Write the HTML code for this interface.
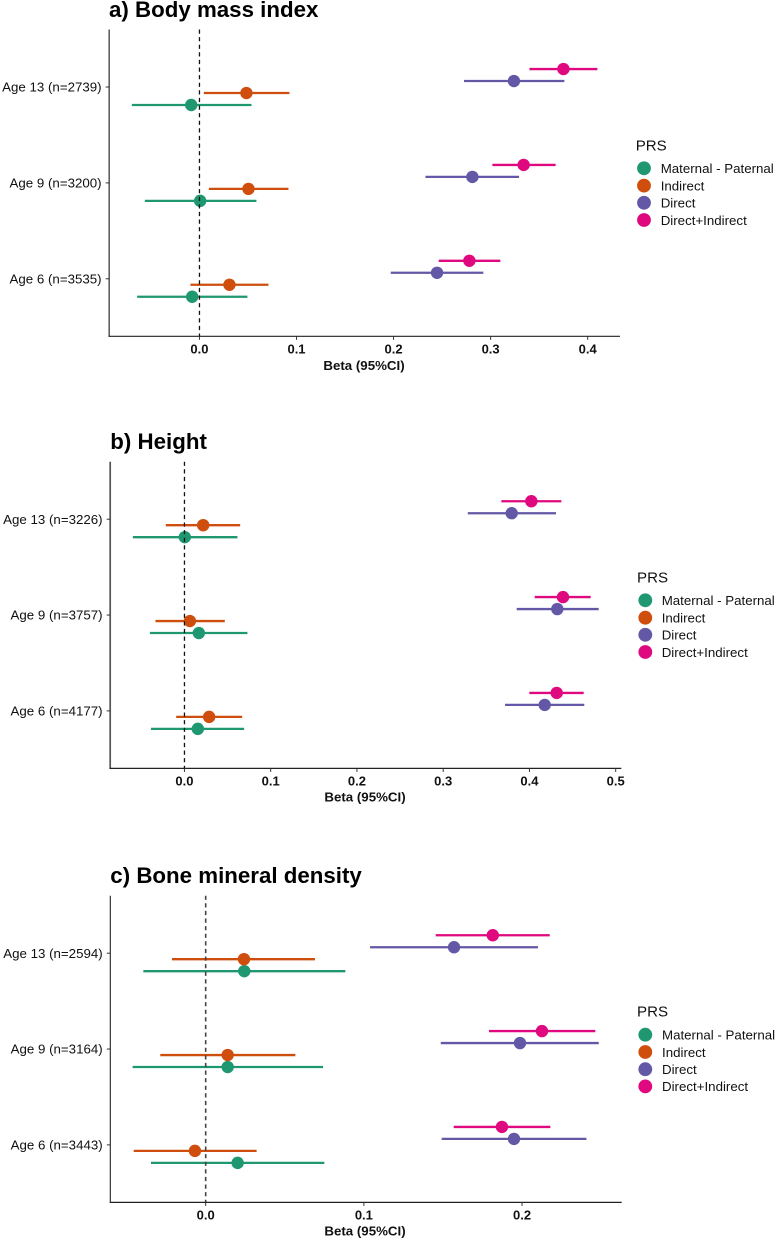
<!DOCTYPE html>
<html lang="en">
<head>
<meta charset="utf-8">
<title>PRS forest plots</title>
<style>
html,body{margin:0;padding:0;background:#fff;width:776px;height:1240px;overflow:hidden}
svg{display:block;font-family:"Liberation Sans",Arial,sans-serif}
.title{font-size:22.3px;font-weight:700;fill:#000}
.axt{font-size:13.3px;font-weight:700;fill:#111;text-anchor:middle}
.lt{font-size:15.1px;fill:#111}
.li{font-size:13.3px;fill:#111}
.tx{font-size:13px;font-weight:700;fill:#111;text-anchor:middle}
.ty{font-size:13.3px;fill:#111;text-anchor:end}
</style>
</head>
<body>
<svg id="chart" xmlns="http://www.w3.org/2000/svg" width="776" height="1240" viewBox="0 0 776 1240">
  <rect width="776" height="1240" fill="#fff"/>

  <g id="panel-a">
    <text class="title" x="109" y="17">a) Body mass index</text>
    <text class="axt" x="364" y="370">Beta (95%CI)</text>
    <g>
      <text class="lt" x="635.7" y="150.7">PRS</text>
      <g><circle cx="644" cy="168.3" r="6.9" fill="#1f9770"/><text class="li" x="660.7" y="173.1">Maternal - Paternal</text></g>
      <g><circle cx="644" cy="185.6" r="6.9" fill="#cf4e0d"/><text class="li" x="660.7" y="190.4">Indirect</text></g>
      <g><circle cx="644" cy="202.8" r="6.9" fill="#6258a6"/><text class="li" x="660.7" y="207.6">Direct</text></g>
      <g><circle cx="644" cy="220" r="6.9" fill="#df087e"/><text class="li" x="660.7" y="224.8">Direct+Indirect</text></g>
    </g>
  </g>

  <g id="panel-b">
    <text class="title" x="110.3" y="449">b) Height</text>
    <text class="axt" x="365" y="801.7">Beta (95%CI)</text>
    <g>
      <text class="lt" x="637" y="582.7">PRS</text>
      <g><circle cx="645.3" cy="600.3" r="6.9" fill="#1f9770"/><text class="li" x="661.7" y="605.1">Maternal - Paternal</text></g>
      <g><circle cx="645.3" cy="617.7" r="6.9" fill="#cf4e0d"/><text class="li" x="661.7" y="622.5">Indirect</text></g>
      <g><circle cx="645.3" cy="634.8" r="6.9" fill="#6258a6"/><text class="li" x="661.7" y="639.6">Direct</text></g>
      <g><circle cx="645.3" cy="652" r="6.9" fill="#df087e"/><text class="li" x="661.7" y="656.8">Direct+Indirect</text></g>
    </g>
  </g>

  <g id="panel-c">
    <text class="title" x="110.3" y="883">c) Bone mineral density</text>
    <text class="axt" x="365" y="1235.3">Beta (95%CI)</text>
    <g>
      <text class="lt" x="637" y="1016.7">PRS</text>
      <g><circle cx="645.3" cy="1034.7" r="6.9" fill="#1f9770"/><text class="li" x="662" y="1039.5">Maternal - Paternal</text></g>
      <g><circle cx="645.3" cy="1052" r="6.9" fill="#cf4e0d"/><text class="li" x="662" y="1056.8">Indirect</text></g>
      <g><circle cx="645.3" cy="1069.2" r="6.9" fill="#6258a6"/><text class="li" x="662" y="1074">Direct</text></g>
      <g><circle cx="645.3" cy="1086.4" r="6.9" fill="#df087e"/><text class="li" x="662" y="1091.2">Direct+Indirect</text></g>
    </g>
  </g>
</svg>
<script>
// Values are listed top to bottom: Age 13, Age 9, Age 6.
const bmiCategories = ["Age 13 (n=2739)", "Age 9 (n=3200)", "Age 6 (n=3535)"];
const bmiTicks = [0.0, 0.1, 0.2, 0.3, 0.4];
const bmiTickLabels = ["0.0", "0.1", "0.2", "0.3", "0.4"];
const bmiDomain = [-0.0930, 0.4333];
const bmiMaternalBeta = [-0.0085, 0.0007, -0.0075];
const bmiMaternalLow = [-0.0697, -0.0563, -0.0642];
const bmiMaternalHigh = [0.0536, 0.0587, 0.0494];
const bmiIndirectBeta = [0.0484, 0.0505, 0.0309];
const bmiIndirectLow = [0.0045, 0.0097, -0.0093];
const bmiIndirectHigh = [0.0927, 0.0917, 0.0711];
const bmiDirectBeta = [0.324, 0.2812, 0.2448];
const bmiDirectLow = [0.2726, 0.2328, 0.1971];
const bmiDirectHigh = [0.376, 0.3293, 0.2925];
const bmiCombinedBeta = [0.375, 0.334, 0.2781];
const bmiCombinedLow = [0.340, 0.3018, 0.2465];
const bmiCombinedHigh = [0.410, 0.367, 0.310];

const heightCategories = ["Age 13 (n=3226)", "Age 9 (n=3757)", "Age 6 (n=4177)"];
const heightTicks = [0.0, 0.1, 0.2, 0.3, 0.4, 0.5];
const heightTickLabels = ["0.0", "0.1", "0.2", "0.3", "0.4", "0.5"];
const heightDomain = [-0.0861, 0.5065];
const heightMaternalBeta = [0.0004, 0.0167, 0.0155];
const heightMaternalLow = [-0.0598, -0.0401, -0.0389];
const heightMaternalHigh = [0.0614, 0.073, 0.0692];
const heightIndirectBeta = [0.0217, 0.0063, 0.0286];
const heightIndirectLow = [-0.0216, -0.0336, -0.0096];
const heightIndirectHigh = [0.0646, 0.0468, 0.0669];
const heightDirectBeta = [0.3794, 0.4323, 0.4177];
const heightDirectLow = [0.3285, 0.3852, 0.3717];
const heightDirectHigh = [0.4308, 0.4803, 0.4636];
const heightCombinedBeta = [0.4022, 0.4389, 0.4316];
const heightCombinedLow = [0.3674, 0.4061, 0.3999];
const heightCombinedHigh = [0.437, 0.471, 0.4629];

const boneCategories = ["Age 13 (n=2594)", "Age 9 (n=3164)", "Age 6 (n=3443)"];
const boneTicks = [0.0, 0.1, 0.2];
const boneTickLabels = ["0.0", "0.1", "0.2"];
const boneDomain = [-0.0603, 0.2630];
const boneMaternalBeta = [0.0244, 0.0139, 0.0202];
const boneMaternalLow = [-0.0394, -0.0462, -0.0346];
const boneMaternalHigh = [0.0883, 0.0742, 0.075];
const boneIndirectBeta = [0.0242, 0.0139, -0.0068];
const boneIndirectLow = [-0.0213, -0.0287, -0.0455];
const boneIndirectHigh = [0.0691, 0.0567, 0.0322];
const boneDirectBeta = [0.157, 0.1987, 0.1949];
const boneDirectLow = [0.1039, 0.1486, 0.1492];
const boneDirectHigh = [0.2101, 0.2485, 0.2407];
const boneCombinedBeta = [0.1815, 0.2126, 0.1873];
const boneCombinedLow = [0.1454, 0.1791, 0.1568];
const boneCombinedHigh = [0.2175, 0.2463, 0.2179];

const SVGNS = "http://www.w3.org/2000/svg";

function make(parent, tag, props) {
  const node = document.createElementNS(SVGNS, tag);
  for (const key in props) node.setAttribute(key, props[key]);
  parent.appendChild(node);
  return node;
}

function drawPanel(cfg) {
  const host = document.getElementById(cfg.id);
  const left = cfg.box[0], top = cfg.box[1], right = cfg.box[2], bottom = cfg.box[3];
  const xScale = function (v) {
    return left + (v - cfg.domain[0]) / (cfg.domain[1] - cfg.domain[0]) * (right - left);
  };
  const step = (bottom - top) / (cfg.categories.length - 1 + 1.2);
  const yScale = function (i) {
    return top + (i + 0.6) * step;
  };

  cfg.series.forEach(function (s) {
    cfg.categories.forEach(function (cat, i) {
      const y = yScale(i) + s.dodge * step;
      const interval = make(host, "line", {
        x1: xScale(s.low[i]), x2: xScale(s.high[i]), y1: y, y2: y,
        stroke: s.color, "stroke-width": 2.3
      });
      
      
      const point = make(host, "circle", {
        cx: xScale(s.beta[i]), cy: y, r: 6.2, fill: s.color
      });
      
      
    });
  });

  const zero = make(host, "line", {
    x1: xScale(0), x2: xScale(0), y1: top, y2: bottom,
    stroke: cfg.zeroColor, "stroke-width": cfg.zeroWidth, "stroke-dasharray": "4.2 3.4"
  });
  
  

  const yAxis = make(host, "line", {
    x1: left, x2: left, y1: top, y2: bottom + 0.6,
    stroke: cfg.yAxisColor, "stroke-width": cfg.yAxisWidth
  });
  
  

  const xAxis = make(host, "line", {
    x1: left - 0.6, x2: right, y1: bottom, y2: bottom,
    stroke: "#222", "stroke-width": 1.2
  });
  
  

  cfg.categories.forEach(function (cat, i) {
    const y = yScale(i);
    const tick = make(host, "line", {
      x1: left - 3.5, x2: left, y1: y, y2: y, stroke: "#333", "stroke-width": 1
    });
    
    
    const label = make(host, "text", { class: "ty", x: left - 7.6, y: y + 4.6 });
    label.textContent = cat;
    
    
  });

  cfg.ticks.forEach(function (t, i) {
    const x = xScale(t);
    const tick = make(host, "line", {
      x1: x, x2: x, y1: bottom, y2: bottom + 3.5, stroke: "#333", "stroke-width": 1
    });
    
    
    const label = make(host, "text", { class: "tx", x: x, y: bottom + 17 });
    label.textContent = cfg.tickLabels[i];
    
    
  });
}

function seriesFor(mb, ml, mh, ib, il, ih, db, dl, dh, cb, cl, ch) {
  return [
    { color: "#1f9770", dodge: 0.1875, beta: mb, low: ml, high: mh },
    { color: "#cf4e0d", dodge: 0.0625, beta: ib, low: il, high: ih },
    { color: "#6258a6", dodge: -0.0625, beta: db, low: dl, high: dh },
    { color: "#df087e", dodge: -0.1875, beta: cb, low: cl, high: ch }
  ];
}

drawPanel({
  id: "panel-a", box: [109.2, 29.5, 620, 336.3], domain: bmiDomain,
  categories: bmiCategories, ticks: bmiTicks, tickLabels: bmiTickLabels,
  zeroColor: "#111", zeroWidth: 1.3, yAxisColor: "#555", yAxisWidth: 1.5,
  series: seriesFor(bmiMaternalBeta, bmiMaternalLow, bmiMaternalHigh,
    bmiIndirectBeta, bmiIndirectLow, bmiIndirectHigh,
    bmiDirectBeta, bmiDirectLow, bmiDirectHigh,
    bmiCombinedBeta, bmiCombinedLow, bmiCombinedHigh)
});
drawPanel({
  id: "panel-b", box: [110.2, 461.7, 621.3, 768.4], domain: heightDomain,
  categories: heightCategories, ticks: heightTicks, tickLabels: heightTickLabels,
  zeroColor: "#111", zeroWidth: 1.3, yAxisColor: "#555", yAxisWidth: 1.7,
  series: seriesFor(heightMaternalBeta, heightMaternalLow, heightMaternalHigh,
    heightIndirectBeta, heightIndirectLow, heightIndirectHigh,
    heightDirectBeta, heightDirectLow, heightDirectHigh,
    heightCombinedBeta, heightCombinedLow, heightCombinedHigh)
});
drawPanel({
  id: "panel-c", box: [110.3, 895.7, 621.7, 1202.4], domain: boneDomain,
  categories: boneCategories, ticks: boneTicks, tickLabels: boneTickLabels,
  zeroColor: "#444", zeroWidth: 1.6, yAxisColor: "#222", yAxisWidth: 1.1,
  series: seriesFor(boneMaternalBeta, boneMaternalLow, boneMaternalHigh,
    boneIndirectBeta, boneIndirectLow, boneIndirectHigh,
    boneDirectBeta, boneDirectLow, boneDirectHigh,
    boneCombinedBeta, boneCombinedLow, boneCombinedHigh)
});
</script>
</body>
</html>
